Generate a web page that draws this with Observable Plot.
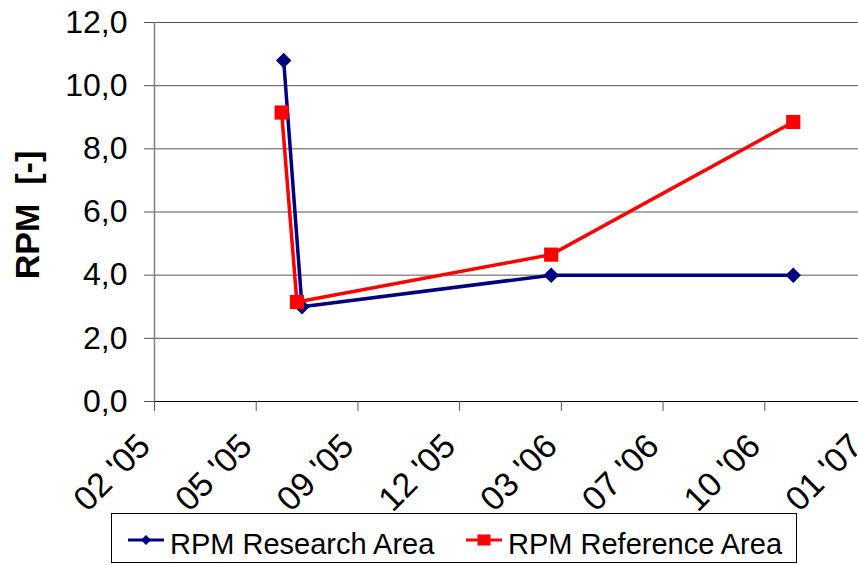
<!DOCTYPE html>
<html>
<head>
<meta charset="utf-8">
<script src="https://cdn.jsdelivr.net/npm/d3@7"></script>
<script src="https://cdn.jsdelivr.net/npm/@observablehq/plot@0.6"></script>
<style>
  html, body { margin: 0; padding: 0; background: #fff; overflow: hidden; width: 858px; height: 565px; }
  #wrap { position: relative; width: 858px; height: 565px; overflow: hidden; font-family: "Liberation Sans", Arial, sans-serif; }
  #chart { position: absolute; left: 0; top: 0; width: 870px; }
  #chart svg { max-width: none !important; }
  #legend { position: absolute; left: 111px; top: 513px; width: 686px; height: 50px; box-sizing: border-box; border: 1px solid #000; background: #fff; }
</style>
</head>
<body>
<div id="wrap">
  <div id="chart"></div>
  <div id="legend"></div>
</div>
<script>
// ---- data ----
const researchDates = ["2005-06-25", "2005-07-13", "2006-03-15", "2006-11-08"];
const researchRPM   = [10.8, 3.0, 4.0, 4.0];
const referenceDates = ["2005-06-23", "2005-07-08", "2006-03-15", "2006-11-08"];
const referenceRPM   = [9.15, 3.15, 4.65, 8.85];
const xTickDates  = ["2005-02-18", "2005-05-29", "2005-09-06", "2005-12-15", "2006-03-25", "2006-07-03", "2006-10-11", "2007-01-19"];
const xTickLabels = ["02 '05", "05 '05", "09 '05", "12 '05", "03 '06", "07 '06", "10 '06", "01 '07"];
const yTicks = [0, 2, 4, 6, 8, 10, 12];
const seriesNames = ["RPM Research Area", "RPM Reference Area"];
const yTitle = "RPM \u00a0[-]";

const parse = s => new Date(s + "T00:00:00Z");
const research = researchDates.map((d, i) => ({date: parse(d), v: researchRPM[i]}));
const reference = referenceDates.map((d, i) => ({date: parse(d), v: referenceRPM[i]}));
const tickDates = xTickDates.map(parse);
const xFmt = d => xTickLabels[tickDates.findIndex(t => +t === +d)];

const blue = "#000080", red = "#ff0000";

const chart = Plot.plot({
  width: 870,
  height: 510,
  marginLeft: 154,
  marginRight: 4,
  marginTop: 22,
  marginBottom: 109,
  style: {fontFamily: "'Liberation Sans', Arial, sans-serif", background: "white", color: "black", overflow: "visible", maxWidth: "none"},
  x: {type: "utc", domain: [tickDates[0], tickDates[tickDates.length - 1]]},
  y: {domain: [0, 12]},
  marks: [
    Plot.ruleY(yTicks.filter(d => d > 0), {stroke: "#555", strokeWidth: 1}),
    Plot.ruleY([0], {stroke: "#000", strokeWidth: 1.2}),
    Plot.ruleX([tickDates[0]], {stroke: "#808080", strokeWidth: 1.5}),
    Plot.axisY({ticks: yTicks, tickFormat: d => d.toFixed(1).replace(".", ","), tickSize: 10, tickPadding: 17, fontSize: 32, label: null, stroke: "#555"}),
    Plot.axisX({ticks: tickDates, tickFormat: () => "", tickSize: 10, label: null, stroke: "#555"}),
    Plot.axisX({ticks: tickDates, tickFormat: xFmt, tickSize: 0, tickPadding: 39, tickRotate: -45, dx: -10, fontSize: 34, label: null}),
    Plot.line(research, {x: "date", y: "v", stroke: blue, strokeWidth: 3.5}),
    Plot.dot(research, {x: "date", y: "v", symbol: "diamond2", r: 7, fill: blue, stroke: "none"}),
    Plot.line(reference, {x: "date", y: "v", stroke: red, strokeWidth: 3.5}),
    Plot.dot(reference, {x: "date", y: "v", symbol: "square", r: 8, fill: red, stroke: "none"}),
    Plot.text([yTitle], {frameAnchor: "left", textAnchor: "middle", rotate: -90, dx: -126, dy: 3, fontSize: 34, fontWeight: "bold", fill: "#000"})
  ]
});
document.getElementById("chart").appendChild(chart);

// ---- legend ----
const lsvg = d3.select("#legend").append("svg").attr("width", 684).attr("height", 48)
  .style("display", "block").style("font-family", "'Liberation Sans', Arial, sans-serif");
const items = [
  {name: seriesNames[0], color: blue, x0: 16, sym: "diamond"},
  {name: seriesNames[1], color: red, x0: 354, sym: "square"}
];
items.forEach(it => {
  const g = lsvg.append("g");
  g.append("line").attr("x1", it.x0).attr("x2", it.x0 + 36).attr("y1", 26).attr("y2", 26)
    .attr("stroke", it.color).attr("stroke-width", 3);
  const cx = it.x0 + 18;
  if (it.sym === "diamond") {
    g.append("path").attr("d", `M${cx},21 L${cx + 5},26 L${cx},31 L${cx - 5},26 Z`).attr("fill", it.color);
  } else {
    g.append("rect").attr("x", cx - 6.5).attr("y", 20.5).attr("width", 13).attr("height", 11).attr("fill", it.color);
  }
  g.append("text").attr("x", it.x0 + 42).attr("y", 40).attr("font-size", 29).attr("fill", "#000").text(it.name);
});
</script>
</body>
</html>
